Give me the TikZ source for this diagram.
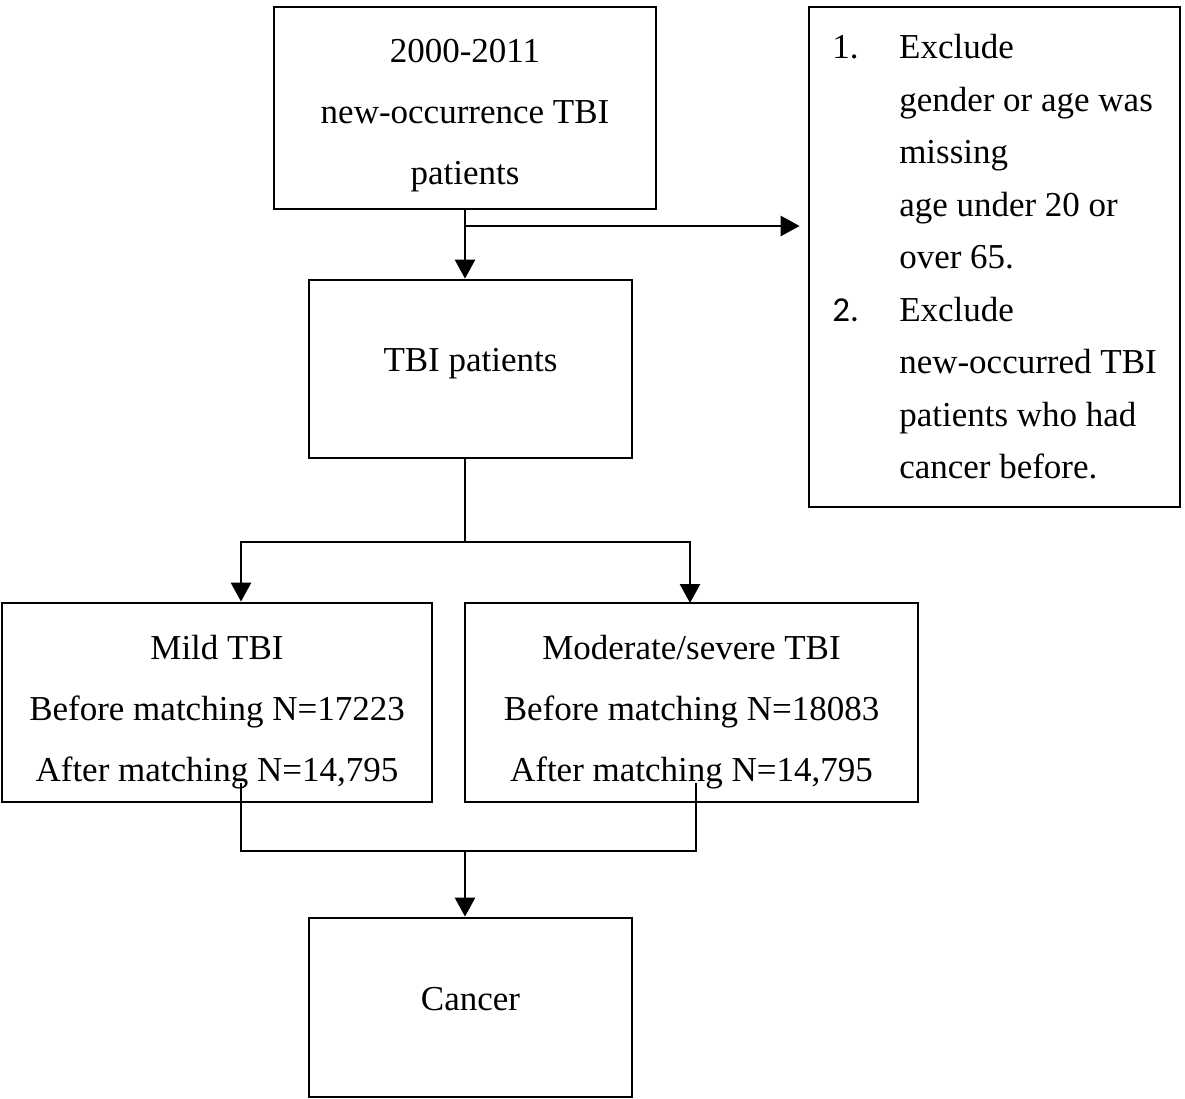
\documentclass[tikz,border=0pt]{standalone}
\usepackage{fontspec}
\setmainfont{Liberation Serif}
\newfontfamily\numfont{Carlito}
\usetikzlibrary{arrows.meta}
% text block moved by #1 inside its box, box size kept
\newcommand\shiftedtext[2]{\raisebox{#1}[\height][\depth]{\begin{tabular}{@{}c@{}}#2\end{tabular}}}
\begin{document}
\begin{tikzpicture}[x=1pt, y=-1pt,
	box/.style={draw, line width=2.8pt, align=center, inner sep=0pt,
		font=\fontsize{35}{61}\selectfont},
	link/.style={line width=2.8pt},
	arr/.style={link, -{Triangle[width=20pt,length=19pt]}}]
	\useasboundingbox (0,0) rectangle (1185,1099);

	% Boxes
	\node[box, minimum width=382pt, minimum height=202pt] (top) at (465,108)
		{\shiftedtext{-3pt}{2000-2011\\new-occurrence TBI\\patients}};
	\node[box, minimum width=323pt, minimum height=178pt] (tbi) at (470.5,369)
		{\shiftedtext{10pt}{TBI patients}};
	\node[box, minimum width=371pt, minimum height=500pt,
		align=left, font=\fontsize{35}{52.5}\selectfont] (excl) at (994.5,257)
		{\makebox[67pt][l]{1.}Exclude\\
		 \hspace*{67pt}gender or age was\\
		 \hspace*{67pt}missing\\
		 \hspace*{67pt}age under 20 or\\
		 \hspace*{67pt}over 65.\\
		 \makebox[67pt][l]{\numfont 2.}Exclude\\
		 \hspace*{67pt}new-occurred TBI\\
		 \hspace*{67pt}patients who had\\
		 \hspace*{67pt}cancer before.};
	\node[box, minimum width=430pt, minimum height=199pt] (mild) at (217,702.5)
		{\shiftedtext{-6pt}{Mild TBI\\Before matching N=17223\\After matching N=14,795}};
	\node[box, minimum width=453pt, minimum height=199pt] (mod) at (691.5,702.5)
		{\shiftedtext{-6pt}{Moderate/severe TBI\\Before matching N=18083\\After matching N=14,795}};
	\node[box, minimum width=323pt, minimum height=179pt] (cancer) at (470.5,1007.5)
		{\shiftedtext{9pt}{Cancer}};

	% Connectors
	\coordinate (br) at (465,226);
	\coordinate (split) at (465,542);
	\coordinate (ml) at (241,783);
	\coordinate (mr) at (696,783);
	\coordinate (join) at (465,851);

	\draw[arr] (top.south -| br) -- (br |- tbi.north);
	\draw[arr, shorten >=8pt] (br) -- (excl.west |- br);
	\draw[link] (split |- tbi.south) -- (split);
	\draw[arr] (split) -| (ml |- mild.north);
	\draw[arr] (split) -| (690,603);
	\draw[link] (ml) |- (join) -| (mr);
	\draw[arr] (join) -- (join |- cancer.north);
\end{tikzpicture}
\end{document}
